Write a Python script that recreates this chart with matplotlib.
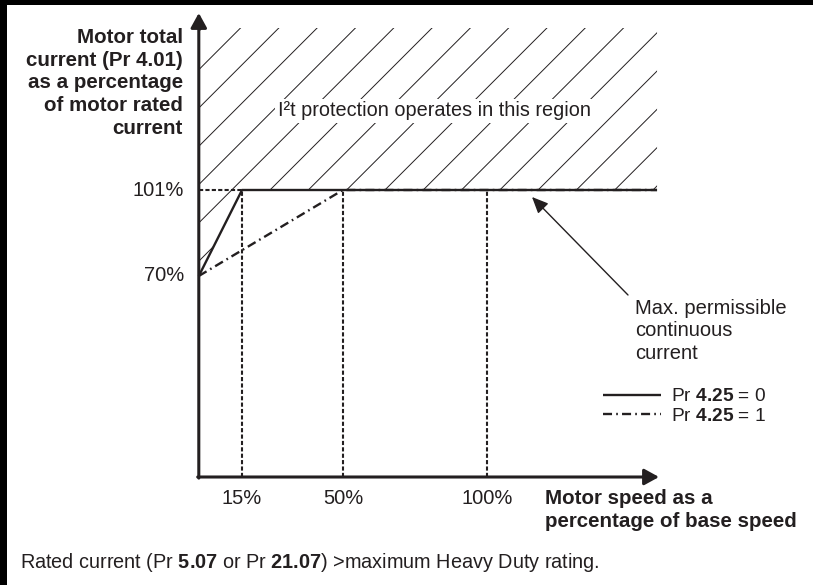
import matplotlib
matplotlib.use("Agg")
import matplotlib.pyplot as plt
import numpy as np
from matplotlib.patches import Polygon, Rectangle
from matplotlib.collections import LineCollection

plt.rcParams['font.family'] = ['Liberation Sans', 'DejaVu Sans']
plt.rcParams['mathtext.fontset'] = 'custom'
plt.rcParams['mathtext.rm'] = 'Liberation Sans'
plt.rcParams['mathtext.bf'] = 'Liberation Sans:bold'
plt.rcParams['lines.scale_dashes'] = False

# ---- data ----
speed_pr0 = [0, 15, 159]          # % base speed, Pr 4.25 = 0
current_pr0 = [70, 101, 101]      # % rated current
speed_pr1 = [0, 50, 159]          # Pr 4.25 = 1
current_pr1 = [70, 101, 101]
x_ticks = [15, 50, 100]
x_tick_labels = ['15%', '50%', '100%']
y_ticks = [101, 70]
y_tick_labels = ['101%', '70%']
legend_labels = [r'Pr $\mathbf{4.25}$ = 0', r'Pr $\mathbf{4.25}$ = 1']

W, H = 813, 585
TXT = '#231f20'

fig = plt.figure(figsize=(W / 100, H / 100), dpi=100)
ax = fig.add_axes([0, 0, 1, 1])
ax.set_axis_off()

# pixel <-> data mapping (schematic scale)
XS, X0 = 2.882, 198.8
YS, Y101 = 2.774, 190.0
def dx(p):
    return (p - X0) / XS
def dy(p):
    return 101 - (p - Y101) / YS
ax.set_xlim(dx(0), dx(W))
ax.set_ylim(dy(H), dy(0))

def fp(x, y):
    return (x / W, 1 - y / H)

y_axis_base = dy(477)
x_end = speed_pr0[-1]
y_top_hatch = dy(28)

# hatched region
poly = Polygon([(speed_pr0[0], current_pr0[0]), (speed_pr0[1], current_pr0[1]),
                (x_end, current_pr0[2]), (x_end, y_top_hatch), (0, y_top_hatch)],
               closed=True, fc='none', ec='none', transform=ax.transData)
ax.add_patch(poly)
k = XS / YS
spacing = 38.3 / XS
x0 = dx(270)
segs = []
for n in range(-20, 20):
    xc = x0 + n * spacing
    ya, yb = dy(600), dy(-20)
    segs.append([(xc + (ya - 101) / k, ya), (xc + (yb - 101) / k, yb)])
lc = LineCollection(segs, colors='#231f20', linewidths=0.7)
ax.add_collection(lc)
lc.set_clip_path(poly)

# dashed guides
dash = (0, (3.0, 1.6))
ax.plot([0, x_ticks[0]], [101, 101], color=TXT, lw=1.5, ls=dash)
for xt in x_ticks:
    ax.plot([xt, xt], [y_axis_base, 101], color=TXT, lw=1.5, ls=dash)

# curves
l0, = ax.plot(speed_pr0, current_pr0, color=TXT, lw=1.7, solid_capstyle='butt')
l1, = ax.plot(speed_pr1, current_pr1, color=TXT, lw=1.7,
              ls=(0, (6.5, 3.0, 1.2, 3.0)))

# axes arrows
arrow_kw = dict(arrowstyle='-|>,head_length=0.4,head_width=0.22', color=TXT,
                lw=2.2, shrinkA=0, shrinkB=0, mutation_scale=22)
ax.annotate('', xy=(dx(659), y_axis_base), xytext=(0 - 1.1 / XS, y_axis_base),
            arrowprops=arrow_kw)
ax.annotate('', xy=(0, dy(13)), xytext=(0, y_axis_base - 1.1 / YS),
            arrowprops=arrow_kw)

# annotation arrow
ax.annotate('', xy=(dx(532), dy(197)), xytext=(dx(628), dy(295)),
            arrowprops=dict(arrowstyle='-|>,head_length=0.45,head_width=0.2',
                            color=TXT, lw=1.0, shrinkA=0, shrinkB=0,
                            mutation_scale=22))

# tick labels
for xt, lab in zip(x_ticks, x_tick_labels):
    ax.text(xt, dy(499), lab, ha='center', va='center', fontsize=14.5, color=TXT)
for yt, lab in zip(y_ticks, y_tick_labels):
    ax.text(dx(184), yt, lab, ha='right', va='center', fontsize=14.5, color=TXT)

# axis titles
fig.text(*fp(183, 83), 'Motor total\ncurrent (Pr 4.01)\nas a percentage\nof motor rated\ncurrent',
         ha='right', va='center', ma='right', fontsize=14.8, fontweight='bold',
         color=TXT, linespacing=1.24)
fig.text(*fp(545, 510), 'Motor speed as a\npercentage of base speed', ha='left',
         va='center', fontsize=14.8, fontweight='bold', color=TXT, linespacing=1.24)

# region label
fig.text(*fp(278, 111), 'I²t protection operates in this region', ha='left',
         va='center', fontsize=14.3, color=TXT,
         bbox=dict(fc='white', ec='none', pad=2))

fig.text(*fp(635, 331), 'Max. permissible\ncontinuous\ncurrent', ha='left',
         va='center', fontsize=14.5, color=TXT, linespacing=1.22)

# legend
leg = ax.legend([l0, l1], legend_labels, loc='upper left',
                bbox_to_anchor=fp(603, 388), bbox_transform=fig.transFigure,
                frameon=False, fontsize=13.8, handlelength=3.0,
                handletextpad=0.55, labelspacing=0.1, borderpad=0,
                borderaxespad=0)
for t in leg.get_texts():
    t.set_color(TXT)

# footnote
fig.text(*fp(20, 562), r'Rated current (Pr $\mathbf{5.07}$ or Pr $\mathbf{21.07}$) >maximum Heavy Duty rating.',
         ha='left', va='center', fontsize=14.3, color=TXT)

# page border
fig.add_artist(Rectangle((0, 1 - 5 / H), 1, 5 / H, transform=fig.transFigure,
                         color='black', lw=0))
fig.add_artist(Rectangle((0, 0), 7 / W, 1, transform=fig.transFigure,
                         color='black', lw=0))

fig.savefig('out.png', dpi=100)
